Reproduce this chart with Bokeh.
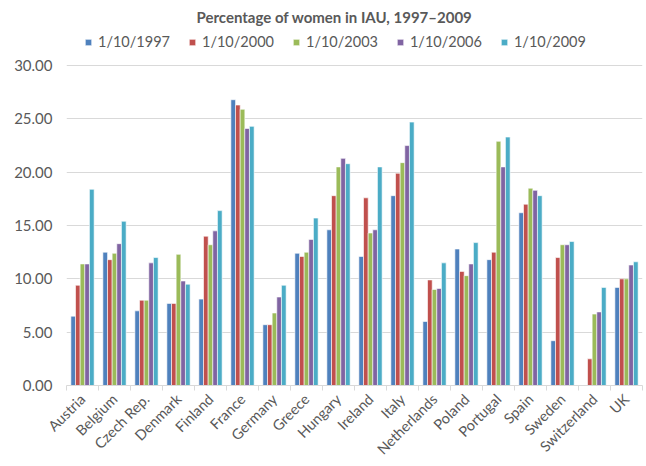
import numpy as np
from bokeh.plotting import figure
from bokeh.models import (ColumnDataSource, FixedTicker, NumeralTickFormatter,
                          Legend, LegendItem, Range1d)
from bokeh.transform import dodge
from bokeh.embed import file_html
from bokeh.resources import INLINE

countries = ["Austria", "Belgium", "Czech Rep.", "Denmark", "Finland", "France",
             "Germany", "Greece", "Hungary", "Ireland", "Italy", "Netherlands",
             "Poland", "Portugal", "Spain", "Sweden", "Switzerland", "UK"]
series_names = ["1/10/1997", "1/10/2000", "1/10/2003", "1/10/2006", "1/10/2009"]
y1997 = [6.5, 12.5, 7.0, 7.7, 8.1, 26.8, 5.7, 12.4, 14.6, 12.1, 17.8, 6.0, 12.8, 11.8, 16.2, 4.2, float("nan"), 9.2]
y2000 = [9.4, 11.8, 8.0, 7.7, 14.0, 26.3, 5.7, 12.1, 17.8, 17.6, 19.9, 9.9, 10.7, 12.5, 17.0, 12.0, 2.5, 10.0]
y2003 = [11.4, 12.4, 8.0, 12.3, 13.2, 25.9, 6.8, 12.5, 20.5, 14.3, 20.9, 9.0, 10.3, 22.9, 18.5, 13.2, 6.7, 10.0]
y2006 = [11.4, 13.3, 11.5, 9.8, 14.5, 24.1, 8.3, 13.7, 21.3, 14.6, 22.5, 9.1, 11.4, 20.5, 18.3, 13.2, 6.9, 11.3]
y2009 = [18.4, 15.4, 12.0, 9.5, 16.4, 24.3, 9.4, 15.7, 20.8, 20.5, 24.7, 11.5, 13.4, 23.3, 17.8, 13.5, 9.2, 11.6]
y_ticks = [0, 5, 10, 15, 20, 25, 30]

colors = ["#4F81BD", "#C0504D", "#9BBB59", "#8064A2", "#4BACC6"]
series = [y1997, y2000, y2003, y2006, y2009]
keys = ["s1997", "s2000", "s2003", "s2006", "s2009"]

n = len(countries)
centers = np.arange(n) + 0.5
data = {"x": centers}
for k, s in zip(keys, series):
    data[k] = s
src = ColumnDataSource(data)

FONT = "Lato"
GRAY = "#595959"

# frame extends above the 30 line to host the legend
TOP_PAD = 3.29
p = figure(width=646, height=466, output_backend="svg", toolbar_location=None,
           x_range=Range1d(0, n), y_range=Range1d(0, 30 + TOP_PAD),
           min_border_left=66, min_border_right=4, min_border_top=28,
           min_border_bottom=10)
p.outline_line_color = None
p.background_fill_color = "white"
p.border_fill_color = "white"

bw = 0.147
offsets = [-0.29, -0.145, 0.0, 0.145, 0.29]
renderers = []
for k, c, off in zip(keys, colors, offsets):
    r = p.vbar(x=dodge("x", off), top=k, width=bw, source=src,
               fill_color=c, line_color="white", line_width=0.6)
    renderers.append(r)

# y axis
p.yaxis.ticker = FixedTicker(ticks=y_ticks)
p.yaxis.formatter = NumeralTickFormatter(format="0.00")
p.yaxis.axis_line_color = None
p.yaxis.major_tick_line_color = None
p.yaxis.minor_tick_line_color = None
p.yaxis.major_label_standoff = 8
p.yaxis.major_label_text_font = FONT
p.yaxis.major_label_text_font_size = "15px"
p.yaxis.major_label_text_color = GRAY
p.ygrid.ticker = FixedTicker(ticks=y_ticks)
p.ygrid.grid_line_color = "#D9D9D9"
p.xgrid.grid_line_color = None

# x axis
p.xaxis.ticker = FixedTicker(ticks=list(centers), minor_ticks=list(range(n + 1)))
p.xaxis.major_label_overrides = {float(c): name for c, name in zip(centers, countries)}
p.xaxis.major_label_orientation = np.pi / 4
p.xaxis.major_label_text_font = FONT
p.xaxis.major_label_text_font_size = "14.5px"
p.xaxis.major_label_text_color = GRAY
p.xaxis.major_tick_line_color = None
p.xaxis.minor_tick_line_color = "#D9D9D9"
p.xaxis.minor_tick_out = 5
p.xaxis.minor_tick_in = 0
p.xaxis.axis_line_color = "#D9D9D9"
p.xaxis.major_label_standoff = 5

# title
p.title.text = "Percentage of women in IAU, 1997\u20132009"
p.title.align = "left"
p.title.offset = 130
p.title.text_font = FONT
p.title.text_font_size = "15px"
p.title.text_font_style = "bold"
p.title.text_color = GRAY

legend = Legend(items=[LegendItem(label=nm, renderers=[r]) for nm, r in zip(series_names, renderers)],
                orientation="horizontal", location=(18, 335))
legend.label_text_font = FONT
legend.label_text_font_size = "14.5px"
legend.label_text_color = GRAY
legend.glyph_width = 8
legend.glyph_height = 8
legend.label_standoff = 6
legend.spacing = 18
legend.border_line_color = None
legend.background_fill_alpha = 0
legend.padding = 2
legend.margin = 0
p.add_layout(legend, "center")

open("out.html", "w").write(file_html(p, INLINE))
